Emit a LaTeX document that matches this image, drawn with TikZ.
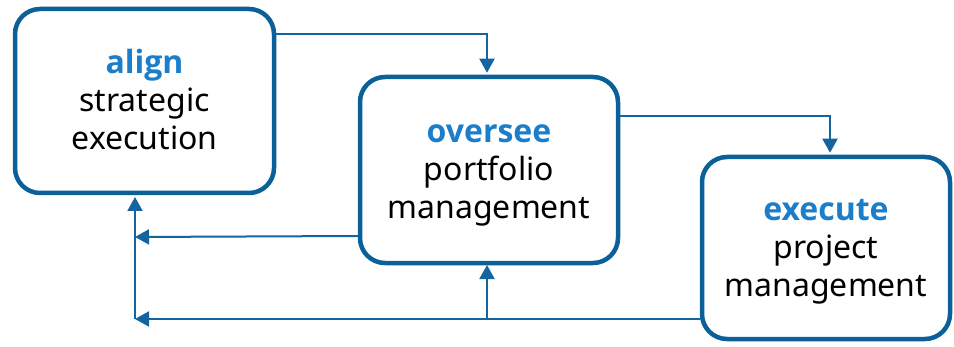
\documentclass[tikz,border=0pt]{standalone}
\usepackage{fontspec}
\setmainfont{Noto Sans}
\newfontfamily\kwfont{Open Sans}
\usetikzlibrary{arrows.meta}
\definecolor{boxblue}{RGB}{12,96,152}
\definecolor{lineblue}{RGB}{20,100,160}
\definecolor{wordblue}{RGB}{26,126,202}
\newcommand{\kwd}[1]{{\kwfont\bfseries\color{wordblue}\rule{0pt}{29pt}#1}}
\newcommand{\lastln}[1]{\rule[-8pt]{0pt}{8pt}#1}
\begin{document}
\begin{tikzpicture}[x=1pt,y=1pt,
  box/.style={draw=boxblue,line width=4.5pt,rounded corners=25pt,fill=white,
    align=center,inner sep=0pt,font=\fontsize{32}{38}\selectfont},
  conn/.style={draw=lineblue,line width=2pt,-{Triangle[length=14pt,width=15pt]}}]
\useasboundingbox (0,0) rectangle (954,346);
\node[box,minimum width=259pt,minimum height=184pt] (A) at (144.5,245)
  {\kwd{align}\\strategic\\\lastln{execution}};
\node[box,minimum width=258pt,minimum height=186pt] (B) at (489,176)
  {\kwd{oversee}\\portfolio\\\lastln{management}};
\node[box,minimum width=248pt,minimum height=182pt] (C) at (826,98)
  {\kwd{execute}\\project\\\lastln{management}};
\coordinate (p1) at (135,109);
\coordinate (p2) at (135,27);
\coordinate (j) at (487,27);
\coordinate (At) at (135,149);
\coordinate (Bt) at (487,81);
\draw[conn] ([yshift=67pt]A.east) -| ([xshift=-2pt,yshift=2pt]B.north);
\draw[conn] ([yshift=54pt]B.east) -| ([xshift=4pt,yshift=2pt]C.north);
\draw[conn] ([yshift=-66pt]B.west) -- (p1);
\draw[conn] ([yshift=-71pt]C.west) -- (p2);
\draw[conn] (p2) -- (At);
\draw[conn] (j) -- (Bt);
\end{tikzpicture}
\end{document}
